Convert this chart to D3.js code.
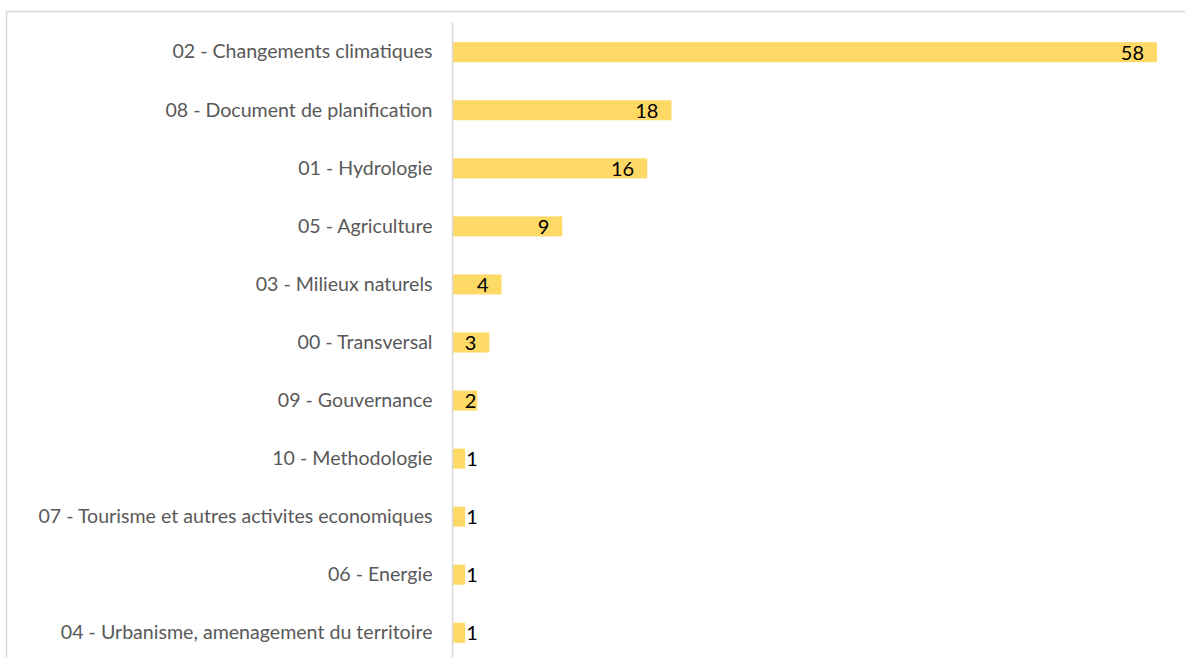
<!DOCTYPE html>
<html>
<head>
<meta charset="utf-8">
<script src="https://cdn.jsdelivr.net/npm/d3@7"></script>
<style>
  body { margin: 0; background: #fff; }
  svg { display: block; }
</style>
</head>
<body>
<div id="chart"></div>
<script>
var categories = [
  "02 - Changements climatiques",
  "08 - Document de planification",
  "01 - Hydrologie",
  "05 - Agriculture",
  "03 - Milieux naturels",
  "00 - Transversal",
  "09 - Gouvernance",
  "10 - Methodologie",
  "07 - Tourisme et autres activites economiques",
  "06 - Energie",
  "04 - Urbanisme, amenagement du territoire"
];
var counts = [58, 18, 16, 9, 4, 3, 2, 1, 1, 1, 1];

var W = 1185, H = 657;
var x0 = 453;

var svg = d3.select("#chart").append("svg")
    .attr("width", W)
    .attr("height", H);

// chart frame
svg.append("rect")
    .attr("x", 6.5).attr("y", 11.5)
    .attr("width", W + 10).attr("height", H + 10)
    .attr("fill", "none")
    .attr("stroke", "#d9d9d9")
    .attr("stroke-width", 1.5);

var x = d3.scaleLinear()
    .domain([0, 58])
    .range([x0, 1157]);

var y = d3.scaleBand()
    .domain(categories)
    .range([23, 662])
    .paddingInner(0.655)
    .paddingOuter(0.33);

svg.selectAll("rect.bar")
    .data(counts)
    .enter().append("rect")
    .attr("class", "bar")
    .attr("x", x(0))
    .attr("y", (d, i) => y(categories[i]))
    .attr("width", d => x(d) - x(0))
    .attr("height", y.bandwidth())
    .attr("fill", "#ffd966");

// category axis
var yAxis = svg.append("g")
    .attr("transform", "translate(" + (x0 - 0.5) + ",0)")
    .call(d3.axisLeft(y).tickSize(0).tickPadding(20));
yAxis.select(".domain").remove();
yAxis.append("line")
    .attr("x1", 0).attr("x2", 0)
    .attr("y1", 22).attr("y2", H)
    .attr("stroke", "#d9d9d9")
    .attr("stroke-width", 1.5);
yAxis.selectAll("text")
    .attr("fill", "#595959")
    .style("font-family", "Lato, 'Liberation Sans', sans-serif")
    .style("font-size", "19.6px");

// value labels, inside end when they fit
svg.selectAll("text.val")
    .data(counts)
    .enter().append("text")
    .attr("class", "val")
    .attr("y", (d, i) => y(categories[i]) + y.bandwidth() / 2)
    .attr("dy", "0.38em")
    .attr("fill", "#000")
    .style("font-family", "Lato, 'Liberation Sans', sans-serif")
    .style("font-size", "20px")
    .text(d => d)
    .each(function(d) {
      var w = this.getComputedTextLength();
      var bw = x(d) - x(0);
      if (bw > w + 14) {
        d3.select(this).attr("x", x(d) - 13).attr("text-anchor", "end");
      } else if (bw > w + 2) {
        d3.select(this).attr("x", x(d) - 1).attr("text-anchor", "end");
      } else {
        d3.select(this).attr("x", x(d) + 1).attr("text-anchor", "start");
      }
    });
</script>
</body>
</html>
